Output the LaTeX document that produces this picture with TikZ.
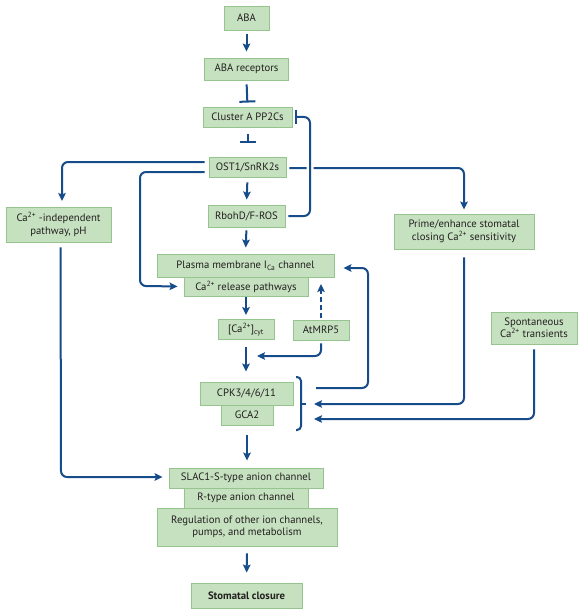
\documentclass[tikz,border=0pt]{standalone}
\usepackage{fontspec}
\setmainfont{PT Sans}
\usetikzlibrary{arrows.meta}
\definecolor{boxfill}{RGB}{198,225,192}
\definecolor{boxline}{RGB}{150,196,143}
\definecolor{arr}{RGB}{22,76,138}
\definecolor{txt}{RGB}{35,31,32}
\tikzset{
  bx/.style={draw=boxline, fill=boxfill, line width=0.9pt, inner sep=0pt, align=center,
     text=txt, font=\fontsize{10.7}{12.4}\selectfont},
  ar/.style={draw=arr, line width=2pt, -{Stealth[length=8pt,width=7.5pt,inset=1.5pt]}},
  inh/.style={draw=arr, line width=2pt, -{Bar[width=16pt,line width=2pt]}},
  ln/.style={draw=arr, line width=2pt},
  rc/.style={rounded corners=6pt},
}
\begin{document}
\begin{tikzpicture}[x=1pt,y=-1pt]
\useasboundingbox (0,0) rectangle (584,615);
\fill[white] (0,0) rectangle (584,615);
% boxes
\node[bx, minimum width=45pt, minimum height=24pt] (aba) at (246.5,18) {ABA};
\node[bx, minimum width=84pt, minimum height=22pt] (rec) at (246.5,69) {ABA receptors};
\node[bx, minimum width=89pt, minimum height=20pt] (pp2c) at (247.5,117) {Cluster A PP2Cs};
\node[bx, minimum width=77pt, minimum height=20pt] (ost) at (247.5,167) {OST1/SnRK2s};
\node[bx, minimum width=77pt, minimum height=22pt] (rboh) at (246.5,216) {RbohD/F-ROS};
\node[bx, minimum width=105pt, minimum height=35pt] (caind) at (58.5,224.5) {Ca\textsuperscript{2+} -independent\\pathway, pH};
\node[bx, minimum width=140pt, minimum height=35pt] (prime) at (464,231.5) {Prime/enhance stomatal\\closing Ca\textsuperscript{2+} sensitivity};
\node[bx, minimum width=177pt, minimum height=23pt] (pm) at (245.5,265.5) {Plasma membrane I\textsubscript{Ca} channel};
\node[bx, minimum width=124pt, minimum height=19pt] (carel) at (246,286.5) {Ca\textsuperscript{2+} release pathways};
\node[bx, minimum width=56pt, minimum height=20pt] (cacyt) at (246,329.5) {[Ca\textsuperscript{2+}]\textsubscript{cyt}};
\node[bx, minimum width=56pt, minimum height=20pt] (mrp) at (321,330) {AtMRP5};
\node[bx, minimum width=86pt, minimum height=32pt] (spon) at (534,328) {Spontaneous\\Ca\textsuperscript{2+} transients};
\node[bx, minimum width=93pt, minimum height=23pt] (cpk) at (246.5,393.5) {CPK3/4/6/11};
\node[bx, minimum width=52pt, minimum height=20pt] (gca) at (247,415) {GCA2};
\node[bx, minimum width=154pt, minimum height=20pt] (slac) at (246,478) {SLAC1-S-type anion channel};
\node[bx, minimum width=124pt, minimum height=20pt] (rtype) at (246,498) {R-type anion channel};
\node[bx, minimum width=180pt, minimum height=38pt] (reg) at (247,527) {Regulation of other ion channels,\\pumps, and metabolism};
\node[bx, minimum width=111pt, minimum height=25pt, font=\fontsize{10.7}{12.4}\selectfont\bfseries] (close) at (246.5,595.5) {Stomatal closure};
% coordinates
\coordinate (bt) at (301,377);
\coordinate (bb) at (301,430);
\coordinate (bm) at (301,404);
\coordinate (mrptip) at (321,284);
\coordinate (mrpjoin) at (257,356);
\coordinate (oU) at (ost.west |- 0,162);
\coordinate (oL) at (ost.west |- 0,172);
% main column
\draw[ar, shorten <=4pt, shorten >=6pt] (aba.south) -- (rec.north);
\draw[inh, shorten <=4pt, shorten >=4pt] (rec.south) -- (pp2c.north);
\draw[inh, shorten <=7pt, shorten >=14pt] (pp2c.south) -- (ost.north);
\draw[ar, shorten <=5pt, shorten >=5pt] (ost.south) -- (rboh.north);
\draw[ar, shorten <=3pt, shorten >=6pt] (rboh.south) -- (pm.north);
\draw[ar, shorten <=1pt, shorten >=4pt] (carel.south -| cacyt) -- (cacyt.north);
\draw[ar, shorten <=7pt, shorten >=10pt] (cacyt.south) -- (cpk.north -| cacyt);
\draw[ar, shorten <=10pt, shorten >=7pt] (gca.south) -- (slac.north -| gca);
\draw[ar, shorten <=7pt, shorten >=10pt] (reg.south) -- (close.north);
% OST1 branches
\draw[ar, rc, shorten <=4pt, shorten >=6pt] (oU) -- (62,162) -- (62,207);
\draw[ar, rc, shorten <=4pt, shorten >=6pt] (oL) -- (140,172) -- (140,286) -- (carel.west);
\draw[ar, rc, shorten <=3pt, shorten >=4pt] ([yshift=-1pt]ost.east) -- (prime.north |- 0,168) -- (prime.north);
% RbohD feedback (drawn over the OST1 line with a gap)
\draw[ln, rc, preaction={draw=white, line width=7pt, shorten <=12pt}, -{Bar[width=14pt,line width=2pt]}, shorten <=3pt, shorten >=3pt]
  (rboh.east) -- (310,216) -- (310,117) -- (pp2c.east);
% AtMRP5
\draw[ar, dashed, dash pattern=on 5pt off 3pt, shorten <=2pt] (mrp.north) -- (mrptip);
\draw[ar, rc, shorten <=3pt] (mrp.south) -- (321,356) -- (mrpjoin);
% bracket
\draw[ln, line width=2pt, rounded corners=4pt] (296,377) -- (bt) -- (bb) -- (296,430);
\draw[ln] (bm) -- (306,404);
% feedback to plasma membrane
\coordinate (fbs) at (316,388);
\draw[ar, rc, shorten >=9pt] (fbs) -- (368,388) -- (368,268) -- (pm.east |- 0,268);
% prime and spontaneous to bracket
\coordinate (b1) at (314,404);
\coordinate (b2) at (314,419);
\draw[ar, rc, shorten <=8pt] (prime.south) -- (prime.south |- b1) -- (b1);
\draw[ar, rc, shorten <=5pt] (spon.south) -- (spon.south |- b2) -- (b2);
% Ca-independent to SLAC1
\draw[ar, rc, shorten <=5pt, shorten >=6pt] ([xshift=2pt]caind.south) -- (61,477) -- (slac.west |- 0,477);
\end{tikzpicture}
\end{document}
